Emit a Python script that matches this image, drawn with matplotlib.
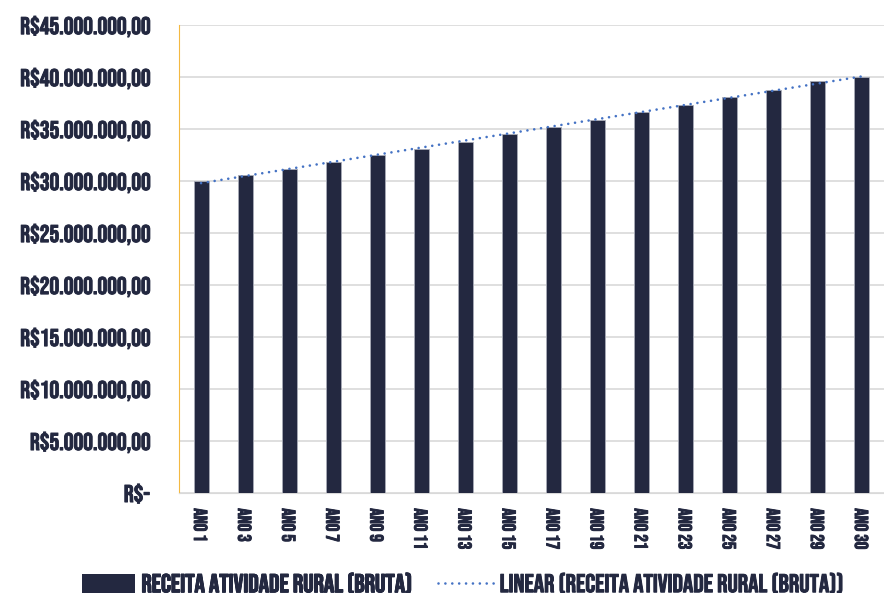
import matplotlib.pyplot as plt
import matplotlib.patheffects as pe
from matplotlib.lines import Line2D
from matplotlib.patches import Patch
import numpy as np

# Dados (valores em R$)
anos = ["ANO 1", "ANO 3", "ANO 5", "ANO 7", "ANO 9", "ANO 11", "ANO 13", "ANO 15",
        "ANO 17", "ANO 19", "ANO 21", "ANO 23", "ANO 25", "ANO 27", "ANO 29", "ANO 30"]
receita = [30.0, 30.6, 31.2, 31.8, 32.5, 33.1, 33.8, 34.5,
           35.2, 35.9, 36.6, 37.3, 38.1, 38.8, 39.6, 40.0]
receita = np.array(receita) * 1e6

yticks = np.arange(0, 45_000_001, 5_000_000)

NAVY = "#232840"
BLUE = "#4472C4"
DOTS = (0, (0.01, 2.6))
plt.rcParams["font.family"] = ["Bebas Neue", "DejaVu Sans"]
bold = [pe.withStroke(linewidth=0.7, foreground=NAVY)]


def brl(v):
    if v == 0:
        return "R$-"
    s = f"{v:,.2f}"
    return "R$" + s.replace(",", "X").replace(".", ",").replace("X", ".")


fig = plt.figure(figsize=(8.84, 5.93), dpi=100)
ax = fig.add_axes([0.2025, 0.1686, 0.7975, 0.789])

x = np.arange(len(anos))
ax.bar(x, receita, width=0.34, color=NAVY, edgecolor="#a9acb8",
       linewidth=0.6, zorder=3)

# linha de tendência linear (como no Excel)
coef = np.polyfit(x, receita, 1)
ax.plot(x, np.polyval(coef, x), linestyle=DOTS, dash_capstyle="round",
        color=BLUE, linewidth=1.9, zorder=4)

ax.set_xlim(-0.5, len(anos) - 0.5)
ax.set_ylim(0, 45_000_000)
ax.set_yticks(yticks)
ax.set_yticklabels([brl(v) for v in yticks], fontsize=17.5, color=NAVY,
                   path_effects=bold)
ax.set_xticks(x)
ax.set_xticklabels(anos, rotation=270, fontsize=13.5, color=NAVY, va="top",
                   path_effects=bold)
ax.tick_params(length=0)
ax.tick_params(axis="x", pad=11)
ax.tick_params(axis="y", pad=21)
ax.grid(axis="y", color="#d9d9d9", linewidth=1.2, zorder=0)

for s in ["top", "right"]:
    ax.spines[s].set_visible(False)
ax.spines["left"].set_color("#F4B942")
ax.spines["bottom"].set_color("#d9d9d9")

# legenda (duas entradas com tamanhos de símbolo diferentes)
leg_font = {"size": 18.5}
leg1 = fig.legend(handles=[Patch(facecolor=NAVY, label="RECEITA ATIVIDADE RURAL (BRUTA)")],
                  loc="center left", bbox_to_anchor=(0.0928, 0.018), frameon=False,
                  handlelength=2.06, handleheight=0.75, handletextpad=0.25,
                  borderpad=0, borderaxespad=0, prop=leg_font, labelcolor=NAVY)
for t in leg1.get_texts():
    t.set_path_effects(bold)
leg2 = fig.legend(handles=[Line2D([], [], color=BLUE, linestyle=DOTS, dash_capstyle="round",
                                  linewidth=1.9,
                                  label="LINEAR (RECEITA ATIVIDADE RURAL (BRUTA))")],
                  loc="center left", bbox_to_anchor=(0.4955, 0.018), frameon=False,
                  handlelength=2.3, handletextpad=0.1, borderpad=0, borderaxespad=0,
                  prop=leg_font, labelcolor=NAVY)
for t in leg2.get_texts():
    t.set_path_effects(bold)
fig.add_artist(leg1)

fig.savefig("out.png", dpi=100)
